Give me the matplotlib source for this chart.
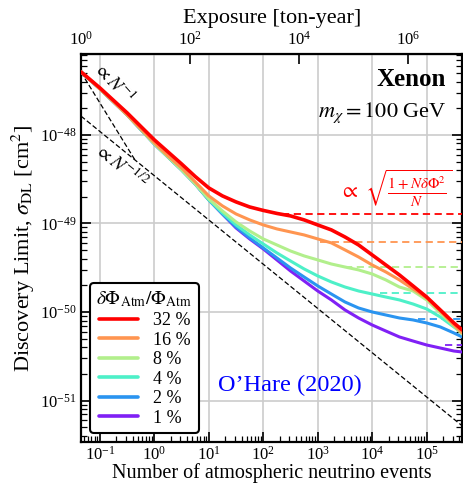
import numpy as np
import matplotlib
matplotlib.use("Agg")
import matplotlib.pyplot as plt

plt.rcParams['font.family'] = ['Liberation Serif', 'DejaVu Serif']
plt.rcParams['mathtext.fontset'] = 'stix'

# ---- data ----
log10_N = [-1.347, -1.0, -0.5, 0.0, 0.25, 0.5, 0.75, 1.0, 1.25, 1.5, 1.75, 2.0, 2.25, 2.5,
           2.75, 3.0, 3.25, 3.5, 3.75, 4.0, 4.25, 4.5, 4.75, 5.0, 5.25, 5.5, 5.653]

logsig_32 = [-47.288, -47.469, -47.751, -48.056, -48.192, -48.328, -48.470, -48.599, -48.689,
             -48.757, -48.814, -48.853, -48.887, -48.915, -48.960, -49.017, -49.073, -49.153,
             -49.243, -49.356, -49.469, -49.582, -49.706, -49.831, -49.977, -50.124, -50.203]
logsig_16 = [-47.288, -47.480, -47.774, -48.090, -48.237, -48.373, -48.531, -48.689, -48.802,
             -48.893, -48.960, -49.017, -49.062, -49.096, -49.130, -49.175, -49.220, -49.299,
             -49.379, -49.469, -49.548, -49.638, -49.740, -49.842, -49.989, -50.147, -50.237]
logsig_8 = [-47.288, -47.480, -47.774, -48.102, -48.249, -48.395, -48.554, -48.723, -48.859,
            -48.983, -49.085, -49.175, -49.243, -49.311, -49.367, -49.412, -49.458, -49.492,
            -49.525, -49.571, -49.638, -49.718, -49.763, -49.864, -50.011, -50.158, -50.249]
logsig_4 = [-47.288, -47.480, -47.774, -48.102, -48.249, -48.395, -48.554, -48.734, -48.881,
            -49.017, -49.130, -49.232, -49.333, -49.424, -49.514, -49.593, -49.661, -49.718,
            -49.763, -49.797, -49.831, -49.864, -49.910, -49.966, -50.056, -50.169, -50.237]
logsig_2 = [-47.288, -47.480, -47.774, -48.102, -48.249, -48.395, -48.554, -48.734, -48.893,
            -49.040, -49.164, -49.277, -49.390, -49.503, -49.605, -49.706, -49.797, -49.887,
            -49.955, -50.000, -50.034, -50.068, -50.090, -50.124, -50.169, -50.237, -50.282]
logsig_1 = [-47.288, -47.480, -47.774, -48.102, -48.249, -48.395, -48.554, -48.734, -48.893,
            -49.051, -49.175, -49.288, -49.412, -49.537, -49.650, -49.763, -49.864, -49.977,
            -50.068, -50.147, -50.215, -50.282, -50.328, -50.373, -50.407, -50.441, -50.452]

labels = ['32 %', '16 %', '8 %', '4 %', '2 %', '1 %']
colors = ['#ff0000', '#ff9550', '#b2ef8c', '#4df0c8', '#2a94f0', '#8020f5']

asym_sigma = [1.29e-49, 6.2e-50, 3.2e-50, 1.62e-50, 8.3e-51, 4.2e-51]
asym_start = [220, 1100, 3200, 14000, 70000, 220000]

guide_m1_N = [0.045, 0.45]
guide_m1_sig = [5.1e-48, 5.1e-49]
guide_mh_N = [0.045, 4.5e5]
guide_mh_sig = [1.63e-48, 5.17e-52]

exposure_per_event = 22.0

# ---- figure ----
fig = plt.figure(figsize=(4.64, 4.83), dpi=100)
ax = fig.add_axes([0.1746, 0.0849, 0.8216, 0.8033])

curves = [logsig_32, logsig_16, logsig_8, logsig_4, logsig_2, logsig_1]
N = 10.0 ** np.array(log10_N)
for i, (ls, c, lab) in enumerate(zip(curves, colors, labels)):
    lw = 2.6 if i == 0 else 2.2
    z = 15 if i == 0 else 10 - i
    ax.plot(N, 10.0 ** np.array(ls), color=c, lw=lw, label=lab, zorder=z,
            solid_joinstyle='round', solid_capstyle='round')
    ax.plot([asym_start[i], 1e7], [asym_sigma[i], asym_sigma[i]], color=c, lw=1.3,
            ls=(0, (4, 2.5)), zorder=3)

ax.plot(guide_m1_N, guide_m1_sig, color='k', lw=0.9, ls=(0, (4, 2)), zorder=4)
ax.plot(guide_mh_N, guide_mh_sig, color='k', lw=0.9, ls=(0, (4, 2)), zorder=4)

ax.set_xscale('log')
ax.set_yscale('log')
ax.set_xlim(0.045, 4.5e5)
ax.set_ylim(3.4e-52, 8.2e-48)

ax.grid(True, which='major', color='#cccccc', lw=1.2, zorder=0)
ax.set_axisbelow(True)
for s in ax.spines.values():
    s.set_linewidth(1.6)
ax.tick_params(which='both', direction='in', right=True, top=False, labelsize=12)
ax.tick_params(which='major', length=7, width=1.2)
ax.tick_params(which='minor', length=4, width=0.9)
ax.tick_params(axis='x', pad=3)
ax.set_yticks([1e-48, 1e-49, 1e-50, 1e-51])
ax.set_xticks([1e-1, 1, 10, 1e2, 1e3, 1e4, 1e5])

ax.set_xlabel('Number of atmospheric neutrino events', fontsize=14.5)
ax.xaxis.set_label_coords(0.5, -0.054)
ax.set_ylabel(r'Discovery Limit, $\sigma_{\rm DL}$ [cm$^2$]', fontsize=16, labelpad=2)

sec = ax.secondary_xaxis('top', functions=(lambda n: n * exposure_per_event,
                                            lambda e: e / exposure_per_event))
sec.set_xscale('log')
sec.set_xticks([1, 1e2, 1e4, 1e6])
sec.xaxis.set_minor_locator(matplotlib.ticker.NullLocator())
sec.tick_params(direction='in', length=7, width=1.2, labelsize=12)
sec.set_xlabel('Exposure [ton-year]', fontsize=16, labelpad=6)

ax.text(0.958, 0.933, 'Xenon', transform=ax.transAxes, ha='right', va='center',
        fontsize=18, fontweight='bold')
ax.text(0.958, 0.848, r'$m_\chi = 100$ GeV', transform=ax.transAxes, ha='right', va='center',
        fontsize=16)
ax.text(0.547, 0.147, "O’Hare (2020)", transform=ax.transAxes, ha='center', va='center',
        fontsize=17.5, color='#0000ff')
ax.text(0.825, 0.652, r'$\propto\ \sqrt{\frac{1+N\delta\Phi^2}{N}}$', transform=ax.transAxes,
        ha='center', va='center', fontsize=15.5, color='#ff0000')
ax.text(0.088, 0.927, r'$\propto N^{-1}$', transform=ax.transAxes, ha='center', va='center',
        fontsize=13.5, rotation=-48)
ax.text(0.107, 0.711, r'$\propto N^{-1/2}$', transform=ax.transAxes, ha='center', va='center',
        fontsize=13.5, rotation=-40)

leg = ax.legend(loc='lower left', bbox_to_anchor=(0.0, 0.0), borderaxespad=0.5,
                title=r'$\delta\Phi_{\rm Atm}/\Phi_{\rm Atm}$', fontsize=13, title_fontsize=14,
                handlelength=2.2, labelspacing=0.14, handletextpad=0.8, borderpad=0.35,
                fancybox=True, framealpha=1.0, edgecolor='k')
leg.get_frame().set_linewidth(1.5)
leg.set_zorder(20)
for lh in leg.get_lines():
    lh.set_linewidth(2.6)

fig.savefig('out.png', dpi=100)
